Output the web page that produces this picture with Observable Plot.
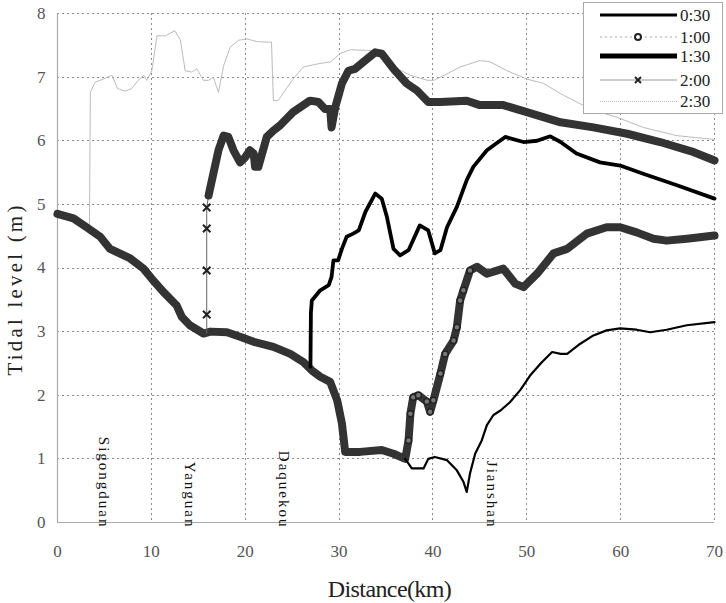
<!DOCTYPE html>
<html><head><meta charset="utf-8">
<script src="https://cdn.jsdelivr.net/npm/d3@7"></script>
<script src="https://cdn.jsdelivr.net/npm/@observablehq/plot@0.6"></script>
<style>
body{margin:0;background:#fff;}
#wrap{position:relative;width:726px;height:603px;font-family:"Liberation Serif","DejaVu Serif","Times New Roman",Times,serif;}
#wrap svg text{font-family:"Liberation Serif","DejaVu Serif","Times New Roman",Times,serif;}
#legend{position:absolute;left:583px;top:2px;}
</style></head><body><div id="wrap"></div>
<script>
// ---- data ----
const seriesNames = ["0:30", "1:00", "1:30", "2:00", "2:30"];
const xTicks = [0, 10, 20, 30, 40, 50, 60, 70];
const yTicks = [0, 1, 2, 3, 4, 5, 6, 7, 8];

const s030x = [37.05, 37.75, 39.0, 39.5, 40.2, 41.5, 42.55, 43.25, 43.6, 43.95, 44.5, 45.2, 45.75, 46.45, 47.2, 48.2, 49.3, 50.35, 51.6, 52.7, 53.6, 54.3, 55.7, 57.1, 58.5, 59.95, 61.7, 63.15, 64.9, 67.05, 70];
const s030y = [1.0, 0.85, 0.85, 1.0, 1.03, 0.98, 0.82, 0.64, 0.48, 0.77, 1.08, 1.29, 1.53, 1.69, 1.76, 1.89, 2.08, 2.31, 2.52, 2.68, 2.65, 2.65, 2.81, 2.94, 3.02, 3.05, 3.03, 2.99, 3.03, 3.1, 3.15];

const s100x = [0, 1.7, 3.1, 4.55, 5.6, 7.75, 9.16, 10.05, 11.3, 12.7, 13.25, 14.1, 15.55, 16.3, 18.05, 19.45, 20.9, 23.0, 24.8, 26.2, 27.1, 28.0, 29.05, 29.8, 30.3, 30.65, 32.25, 34.55, 35.8, 37.05, 37.4, 37.6, 37.9, 38.45, 39.35, 39.7, 40.05, 40.8, 41.3, 42.2, 42.55, 42.9, 43.25, 43.95, 44.7, 45.75, 47.5, 48.8, 49.65, 51.1, 52.85, 54.3, 56.4, 58.5, 59.95, 61.7, 63.5, 64.9, 67.05, 70];
const s100y = [4.85, 4.78, 4.64, 4.49, 4.3, 4.15, 3.99, 3.83, 3.62, 3.41, 3.23, 3.1, 2.97, 3.0, 2.99, 2.92, 2.84, 2.76, 2.65, 2.52, 2.39, 2.29, 2.21, 1.92, 1.56, 1.11, 1.11, 1.14, 1.08, 1.0, 1.29, 1.71, 1.97, 2.0, 1.9, 1.74, 1.92, 2.34, 2.65, 2.86, 3.07, 3.49, 3.65, 3.96, 4.02, 3.91, 3.99, 3.75, 3.7, 3.91, 4.23, 4.3, 4.54, 4.64, 4.64, 4.56, 4.46, 4.43, 4.46, 4.51];

const s130x = [26.95, 27.0, 27.1, 28.0, 28.9, 29.2, 29.4, 29.9, 30.3, 30.8, 31.5, 32.1, 32.8, 33.85, 34.55, 35.1, 35.8, 36.5, 37.4, 38.6, 39.5, 40.2, 40.8, 41.5, 42.55, 43.6, 44.3, 45.75, 47.7, 49.65, 51.1, 52.5, 53.6, 55.3, 57.8, 59.95, 62.4, 66.0, 70];
const s130y = [2.45, 3.3, 3.49, 3.65, 3.73, 3.86, 4.12, 4.12, 4.3, 4.49, 4.54, 4.59, 4.88, 5.17, 5.09, 4.8, 4.3, 4.2, 4.28, 4.67, 4.59, 4.23, 4.28, 4.64, 4.96, 5.38, 5.59, 5.85, 6.06, 5.98, 6.0, 6.07, 5.98, 5.8, 5.66, 5.61, 5.48, 5.3, 5.09];

const s200x = [15.9, 15.9, 15.9, 15.9, 15.9, 16.1, 16.6, 17.15, 17.7, 18.2, 18.75, 19.45, 20.0, 20.5, 20.9, 21.05, 21.4, 22.3, 23.0, 23.7, 25.1, 26.9, 27.8, 28.5, 29.05, 29.2, 29.6, 30.3, 31.0, 31.7, 32.6, 33.85, 34.55, 35.8, 37.2, 38.3, 39.5, 40.8, 43.6, 45.0, 47.5, 50.0, 53.6, 57.1, 60.7, 64.2, 67.8, 70];
const s200y = [2.98, 3.27, 3.96, 4.62, 4.95, 5.14, 5.48, 5.85, 6.08, 6.06, 5.85, 5.66, 5.74, 5.85, 5.8, 5.59, 5.59, 6.06, 6.16, 6.24, 6.45, 6.63, 6.61, 6.5, 6.5, 6.21, 6.53, 6.9, 7.1, 7.13, 7.24, 7.39, 7.37, 7.13, 6.9, 6.79, 6.61, 6.61, 6.63, 6.56, 6.56, 6.45, 6.29, 6.21, 6.11, 5.98, 5.82, 5.69];

const s230x = [3.4, 3.5, 4.0, 4.9, 5.8, 6.4, 7.2, 7.9, 8.6, 9.2, 9.5, 10.05, 10.6, 11.5, 12.0, 12.5, 13.1, 13.6, 14.3, 14.85, 15.55, 16.1, 16.6, 17.15, 17.7, 18.4, 19.3, 20.2, 21.2, 22.3, 22.8, 23.0, 23.5, 25.1, 26.2, 27.8, 29.1, 30.1, 31.2, 33.0, 34.0, 35.8, 37.6, 39.4, 40.1, 41.5, 42.9, 45.0, 46.1, 47.9, 50.0, 51.8, 53.6, 55.3, 57.1, 59.6, 62.4, 66.0, 70];
const s230y = [4.6, 6.76, 6.92, 6.97, 7.03, 6.82, 6.78, 6.82, 6.95, 7.03, 6.95, 7.1, 7.65, 7.65, 7.69, 7.73, 7.58, 7.1, 7.08, 7.13, 6.95, 6.95, 7.0, 6.76, 7.18, 7.47, 7.58, 7.6, 7.56, 7.55, 7.55, 6.63, 6.63, 6.97, 7.16, 7.21, 7.24, 7.37, 7.43, 7.42, 7.42, 7.16, 7.03, 6.95, 6.95, 7.05, 7.16, 7.26, 7.24, 7.1, 6.97, 6.9, 6.74, 6.61, 6.48, 6.37, 6.21, 6.08, 6.02];

const locNames = ["Sigongduan", "Yanguan", "Daquekou", "Jianshan"];
const locKm = [4.9, 14.1, 24.1, 46.3];

// ---- tables ----
const rows = (xs, ys, s) => xs.map((x, i) => ({x, y: ys[i], s, i}));
const d030 = rows(s030x, s030y, seriesNames[0]);
const d100 = rows(s100x, s100y, seriesNames[1]);
const d130 = rows(s130x, s130y, seriesNames[2]);
const d200 = rows(s200x, s200y, seriesNames[3]);
const d230 = rows(s230x, s230y, seriesNames[4]);
const locRows = locNames.map((name, i) => ({name, km: locKm[i]}));

const FONT = "Liberation Serif, DejaVu Serif, Times New Roman, serif";
const lineOpts = {x: "x", y: "y", strokeLinejoin: "round", strokeLinecap: "round"};
const gridOpts = {stroke: "#8a8a8a", strokeOpacity: 1, strokeWidth: 1, strokeDasharray: "2,3", shapeRendering: "crispEdges"};

const plot = Plot.plot({
  width: 726, height: 603,
  marginTop: 13, marginLeft: 57, marginRight: 12, marginBottom: 81,
  x: {domain: [0, 70]},
  y: {domain: [0, 8]},
  style: {fontFamily: FONT, fontSize: "17px", color: "#555", background: "#fff"},
  marks: [
    Plot.gridX({ticks: xTicks.filter(t => t > 0), ...gridOpts}),
    Plot.gridY({ticks: yTicks.filter(t => t > 0), ...gridOpts}),
    Plot.ruleX([0], {stroke: "#aaa", strokeOpacity: 1, strokeWidth: 1.2}),
    Plot.ruleY([0], {stroke: "#aaa", strokeOpacity: 1, strokeWidth: 1.2}),
    Plot.axisX({ticks: xTicks, tickSize: 0, tickPadding: 22, label: null, fontSize: 17}),
    Plot.axisY({ticks: yTicks, tickSize: 0, tickPadding: 12, label: null, fontSize: 17}),
    Plot.line(d230, {...lineOpts, stroke: "#b8b8b8", strokeWidth: 1, strokeDasharray: "1.5,0.8"}),
    Plot.line(d100, {...lineOpts, stroke: "#333", strokeWidth: 8}),
    Plot.dot(d100.filter(d => d.x > 37.2 && d.x < 44.5), {x: "x", y: "y", r: 3, fill: "#777", stroke: "#222", strokeWidth: 1.5}),
    Plot.line(d200, {...lineOpts, stroke: "#666", strokeWidth: 1}),
    Plot.line(d200.filter(d => d.i >= 5), {...lineOpts, stroke: "#333", strokeWidth: 8}),
    Plot.dot(d200.filter(d => d.i >= 1 && d.i <= 4), {x: "x", y: "y", symbol: "times", r: 3.5, stroke: "#222", strokeWidth: 2}),
    Plot.line(d130, {...lineOpts, stroke: "#000", strokeWidth: 3.8}),
    Plot.line(d030, {...lineOpts, stroke: "#000", strokeWidth: 2.2}),
    Plot.text(locRows, {x: "km", y: 0, text: "name", rotate: 90, textAnchor: "end", lineAnchor: "middle", dy: 6, fontSize: 15, fill: "#111"}),
    Plot.text(["Tidal level (m)"], {frameAnchor: "left", textAnchor: "middle", lineAnchor: "middle", rotate: -90, dx: -42, dy: 21, fontSize: 21, fill: "#222"}),
    Plot.text(["Distance(km)"], {frameAnchor: "bottom", textAnchor: "middle", lineAnchor: "middle", dx: 3.5, dy: 67, fontSize: 24, fill: "#222"})
  ]
});

const sel = d3.select(plot);
const textIs = (s) => function () { return this.textContent === s; };
sel.selectAll("text").filter(textIs("Tidal level (m)"))
  .style("letter-spacing", "3.2px").style("font-size", "21px").style("text-anchor", "middle");
sel.selectAll("text").filter(textIs("Distance(km)"))
  .style("letter-spacing", "-0.6px").style("font-size", "24px").style("text-anchor", "middle");
sel.selectAll("text").filter(function () { return locNames.includes(this.textContent); })
  .style("letter-spacing", "2px").style("font-size", "15px");

const wrap = document.getElementById("wrap");
wrap.appendChild(plot);

// ---- legend (HTML overlay with inline SVG swatches) ----
const legendRowsY = [13, 35, 54, 78, 99.5];
const lw = 140, lh = 112;
const leg = d3.select(wrap).append("svg").attr("id", "legend")
  .attr("width", lw).attr("height", lh);
leg.append("rect").attr("x", 0.5).attr("y", 0.5).attr("width", lw - 1).attr("height", lh - 1)
  .attr("fill", "#fff").attr("stroke", "#aaa");
const swatch = [
  {stroke: "#000", w: 3, dash: null, marker: null},
  {stroke: "#aaa", w: 1.2, dash: "2,3", marker: "circle"},
  {stroke: "#000", w: 5, dash: null, marker: null},
  {stroke: "#999", w: 1, dash: null, marker: "times"},
  {stroke: "#bbb", w: 1, dash: "1,1", marker: null}
];
seriesNames.forEach((name, i) => {
  const y = legendRowsY[i], s = swatch[i];
  const ln = leg.append("line").attr("x1", 17).attr("x2", 94).attr("y1", y).attr("y2", y)
    .attr("stroke", s.stroke).attr("stroke-width", s.w);
  if (s.dash) ln.attr("stroke-dasharray", s.dash);
  if (s.marker === "circle") {
    leg.append("circle").attr("cx", 55).attr("cy", y).attr("r", 3).attr("fill", "#fff")
      .attr("stroke", "#222").attr("stroke-width", 2);
  } else if (s.marker === "times") {
    leg.append("path").attr("d", `M52,${y-3}L58,${y+3}M52,${y+3}L58,${y-3}`)
      .attr("stroke", "#222").attr("stroke-width", 2);
  }
  leg.append("text").attr("x", 97).attr("y", y).attr("dy", "0.35em")
    .attr("font-size", 17).attr("fill", "#222").text(name);
});
</script>
</body></html>
